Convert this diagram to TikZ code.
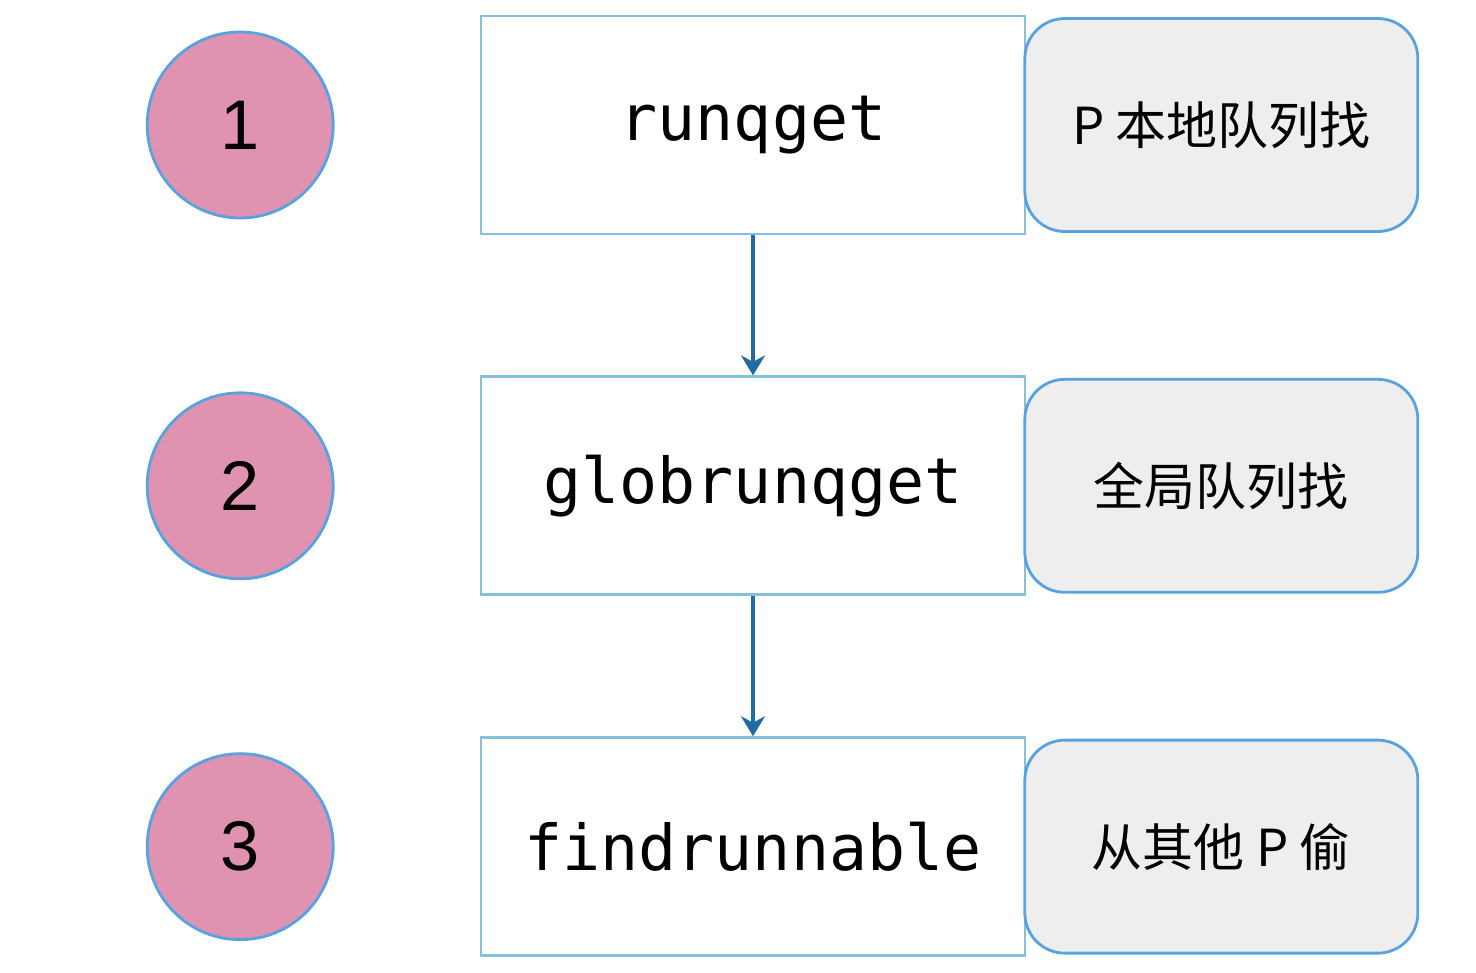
\documentclass[tikz,border=0pt]{standalone}
\usepackage{fontspec}
\setmainfont{Liberation Sans}
\setmonofont{DejaVu Sans Mono}
\newfontfamily\cjk{Noto Sans CJK SC}
\usepackage{tikz}
\usetikzlibrary{arrows.meta, positioning}
\definecolor{stepfill}{RGB}{224, 147, 176}
\definecolor{blueedge}{RGB}{88, 162, 222}
\definecolor{funcedge}{RGB}{135, 192, 218}
\definecolor{arrowblue}{RGB}{34, 106, 162}
\definecolor{notefill}{RGB}{238, 238, 238}
\tikzstyle{stepnum} = [circle, minimum size=1.86cm, inner sep=0pt, draw=blueedge, line width=0.8pt, fill=stepfill, font=\fontsize{20}{24}\selectfont]
\tikzstyle{func} = [rectangle, minimum width=5.44cm, minimum height=2.18cm, draw=funcedge, line width=0.8pt, fill=white, font=\ttfamily\fontsize{18}{22}\selectfont]
\tikzstyle{note} = [rectangle, rounded corners=0.4cm, minimum width=3.93cm, minimum height=2.13cm, draw=blueedge, line width=0.8pt, fill=notefill, font=\cjk\fontsize{14.5}{18}\selectfont]
\tikzstyle{arrow} = [line width=0.9pt, draw=arrowblue, -{Stealth[length=0.2cm, width=0.24cm]}]

\begin{document}
\begin{tikzpicture}[node distance=1.40cm]
\useasboundingbox (0,0) rectangle (14.76,-9.72);

\node[func] (runqget) at (7.53,-1.25) {runqget};
\node[func, below=of runqget] (globrunqget) {globrunqget};
\node[func, below=of globrunqget] (findrunnable) {findrunnable};

\node[note, right=-0.03cm of runqget] (local) {P 本地队列找};
\node[note, right=-0.03cm of globrunqget] (global) {全局队列找};
\node[note, right=-0.03cm of findrunnable] (steal) {从其他 P 偷};

\node[stepnum, left=1.45cm of runqget] (one) {1};
\node[stepnum, left=1.45cm of globrunqget] (two) {2};
\node[stepnum, left=1.45cm of findrunnable] (three) {3};

\draw[arrow] (runqget) -- (globrunqget);
\draw[arrow] (globrunqget) -- (findrunnable);

\end{tikzpicture}
\end{document}
